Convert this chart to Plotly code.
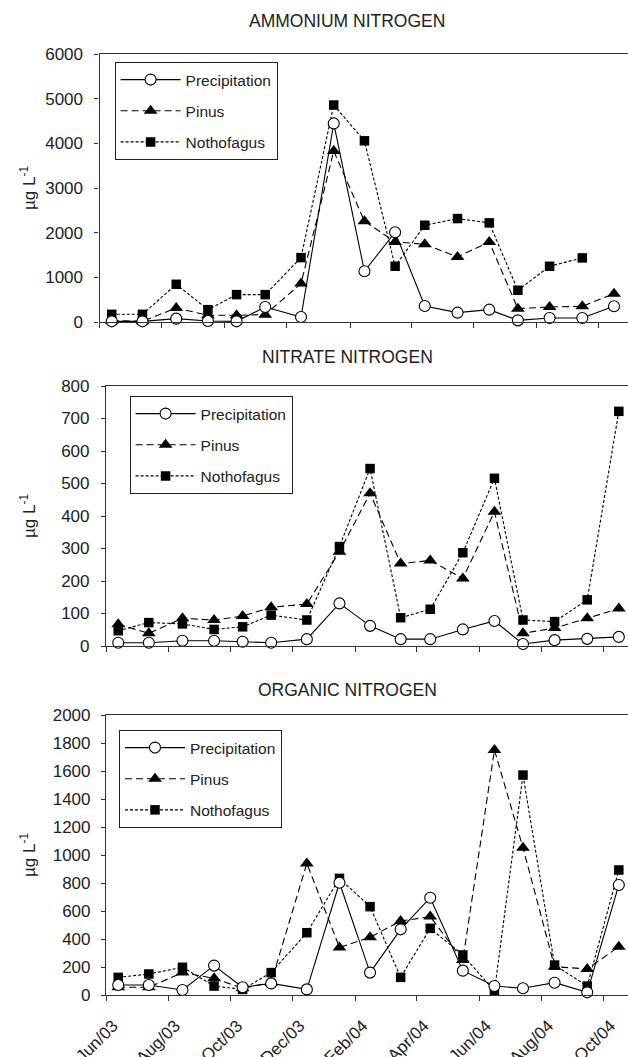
import plotly.graph_objects as go

W, H = 628, 1057

# Sampling dates (approximately mid-month)
dates = ["2003-06-13", "2003-07-13", "2003-08-15", "2003-09-15", "2003-10-13",
         "2003-11-10", "2003-12-15", "2004-01-16", "2004-02-15", "2004-03-16",
         "2004-04-14", "2004-05-16", "2004-06-16", "2004-07-14", "2004-08-14",
         "2004-09-15", "2004-10-16"]

tick_dates = ["2003-06-01", "2003-08-01", "2003-10-01", "2003-12-01", "2004-02-01",
              "2004-04-01", "2004-06-01", "2004-08-01", "2004-10-01"]
tick_labels = ["Jun/03", "Aug/03", "Oct/03", "Dec/03", "Feb/04",
               "Apr/04", "Jun/04", "Aug/04", "Oct/04"]

series_names = ["Precipitation", "Pinus", "Nothofagus"]

# Ammonium nitrogen (µg L-1)
amm_precip = [15, 15, 75, 22, 15, 336, 112, 4446, 1136, 2010, 359, 209, 276, 37, 90, 90, 351]
amm_pinus = [30, 15, 314, 150, 150, 165, 860, 3826, 2257, 1793, 1741, 1457, 1793, 299, 336, 351, 635]
amm_noth = [172, 172, 844, 276, 613, 613, 1442, 4857, 4057, 1248, 2167, 2316, 2219, 710, 1248, 1435, None]

# Nitrate nitrogen (µg L-1)
nit_precip = [10, 10, 16, 16, 13, 10, 21, 131, 62, 21, 21, 51, 77, 6, 18, 22, 28]
nit_pinus = [67, 39, 85, 80, 92, 119, 129, 290, 470, 254, 263, 208, 413, 39, 55, 85, 115]
nit_noth = [47, 72, 68, 51, 59, 95, 80, 306, 546, 87, 113, 287, 516, 80, 75, 142, 722]

# Organic nitrogen (µg L-1)
org_precip = [71, 71, 36, 210, 55, 83, 40, 802, 160, 469, 695, 174, 64, 48, 88, 19, 786]
org_pinus = [55, 55, 160, 119, 48, 90, 940, 340, 412, 528, 560, 250, 1750, 1052, 202, 186, 345]
org_noth = [126, 150, 198, 64, 40, 160, 445, 833, 631, 126, 476, 286, 29, 1571, 214, 64, 893]

panel_titles = ["AMMONIUM NITROGEN", "NITRATE NITROGEN", "ORGANIC NITROGEN"]
panel_data = [
    (amm_precip, amm_pinus, amm_noth),
    (nit_precip, nit_pinus, nit_noth),
    (org_precip, org_pinus, org_noth),
]
y_max = [6000, 800, 2000]
y_dtick = [1000, 100, 200]

# Layout geometry (pixels)
plot_left = [99.5, 106, 106]
plot_top = [54, 386, 715]
plot_bottom = [322, 646, 995]
x_end = ["2004-10-29 16:00", "2004-10-25", "2004-10-25"]
title_y = [21, 357, 690]
legend_box = [(114.6, 62), (129.6, 396), (119, 730)]
ystandoff = [8, 8, 7]

FONT = "Liberation Sans, Arial, sans-serif"
INK = "#222222"

styles = {
    "Precipitation": dict(line=dict(color="black", width=1.1, dash="solid"),
                          marker=dict(symbol="circle", size=11, color="white",
                                      line=dict(color="black", width=1.1))),
    "Pinus": dict(line=dict(color="black", width=1.1, dash="7px,4px"),
                  marker=dict(symbol="triangle-up", size=12, color="black",
                              line=dict(color="black", width=0))),
    "Nothofagus": dict(line=dict(color="black", width=1.1, dash="3px,2px"),
                       marker=dict(symbol="square", size=9.5, color="black",
                                   line=dict(color="black", width=0))),
}
draw_order = ["Nothofagus", "Pinus", "Precipitation"]
rank = {"Precipitation": 1, "Pinus": 2, "Nothofagus": 3}

fig = go.Figure()
layout = dict(
    width=W, height=H,
    margin=dict(l=0, r=0, t=0, b=0),
    paper_bgcolor="white", plot_bgcolor="white",
    font=dict(family=FONT, color=INK),
    annotations=[],
)

for i in range(3):
    xa = "x" if i == 0 else f"x{i+1}"
    ya = "y" if i == 0 else f"y{i+1}"
    lg = "legend" if i == 0 else f"legend{i+1}"
    vals = dict(zip(series_names, panel_data[i]))
    for name in draw_order:
        st = styles[name]
        fig.add_trace(go.Scatter(
            x=dates, y=vals[name], name=name, mode="lines+markers",
            line=st["line"], marker=st["marker"],
            xaxis=xa, yaxis=ya, legend=lg, legendgroup=f"{name}{i}",
            legendrank=rank[name], connectgaps=False, cliponaxis=False,
            hoverinfo="skip",
        ))

    xkey = "xaxis" if i == 0 else f"xaxis{i+1}"
    ykey = "yaxis" if i == 0 else f"yaxis{i+1}"
    layout[xkey] = dict(
        type="date", domain=[plot_left[i] / W, 1.0],
        range=["2003-06-01", x_end[i]], anchor=ya,
        tickvals=tick_dates, ticktext=tick_labels,
        showticklabels=(i == 2), tickangle=-45,
        tickfont=dict(size=17, family=FONT, color=INK),
        ticks="outside", ticklen=5, tickwidth=1, tickcolor="#333333",
        showline=True, linecolor="#333333", linewidth=1.2, mirror=True,
        showgrid=False, zeroline=False, automargin=False,
        ticklabelshift=7, ticklabelstandoff=8,
    )
    layout[ykey] = dict(
        domain=[1 - plot_bottom[i] / H, 1 - plot_top[i] / H],
        range=[0, y_max[i]], dtick=y_dtick[i], tick0=0, anchor=xa,
        tickfont=dict(size=17, family=FONT, color=INK),
        ticks="outside", ticklen=4, tickwidth=1, tickcolor="#333333",
        showline=True, linecolor="#333333", linewidth=1.2,
        showgrid=False, zeroline=False, automargin=False,
        ticklabelstandoff=ystandoff[i],
    )
    lx, ly = legend_box[i]
    layout[lg] = dict(
        x=lx / W, y=1 - ly / H, xanchor="left", yanchor="top",
        xref="paper", yref="paper",
        bordercolor="#222222", borderwidth=1, bgcolor="white",
        font=dict(size=15.5, family=FONT, color=INK),
        itemwidth=60, tracegroupgap=8, traceorder="grouped",
    )
    layout["annotations"].append(dict(
        text=panel_titles[i], x=347 / W, y=1 - title_y[i] / H,
        xref="paper", yref="paper", showarrow=False,
        xanchor="center", yanchor="middle",
        font=dict(size=17.5, family=FONT, color=INK),
    ))
    layout["annotations"].append(dict(
        text="µg L<sup>-1</sup>", x=28 / W,
        y=1 - (plot_top[i] + plot_bottom[i]) / 2 / H,
        xref="paper", yref="paper", showarrow=False, textangle=-90,
        xanchor="center", yanchor="middle",
        font=dict(size=17, family=FONT, color=INK),
    ))

fig.update_layout(**layout)
fig.write_html(
    "out.html",
    config={"displayModeBar": False},
    post_script="document.body.style.margin='0px';document.body.style.overflow='hidden';",
)
